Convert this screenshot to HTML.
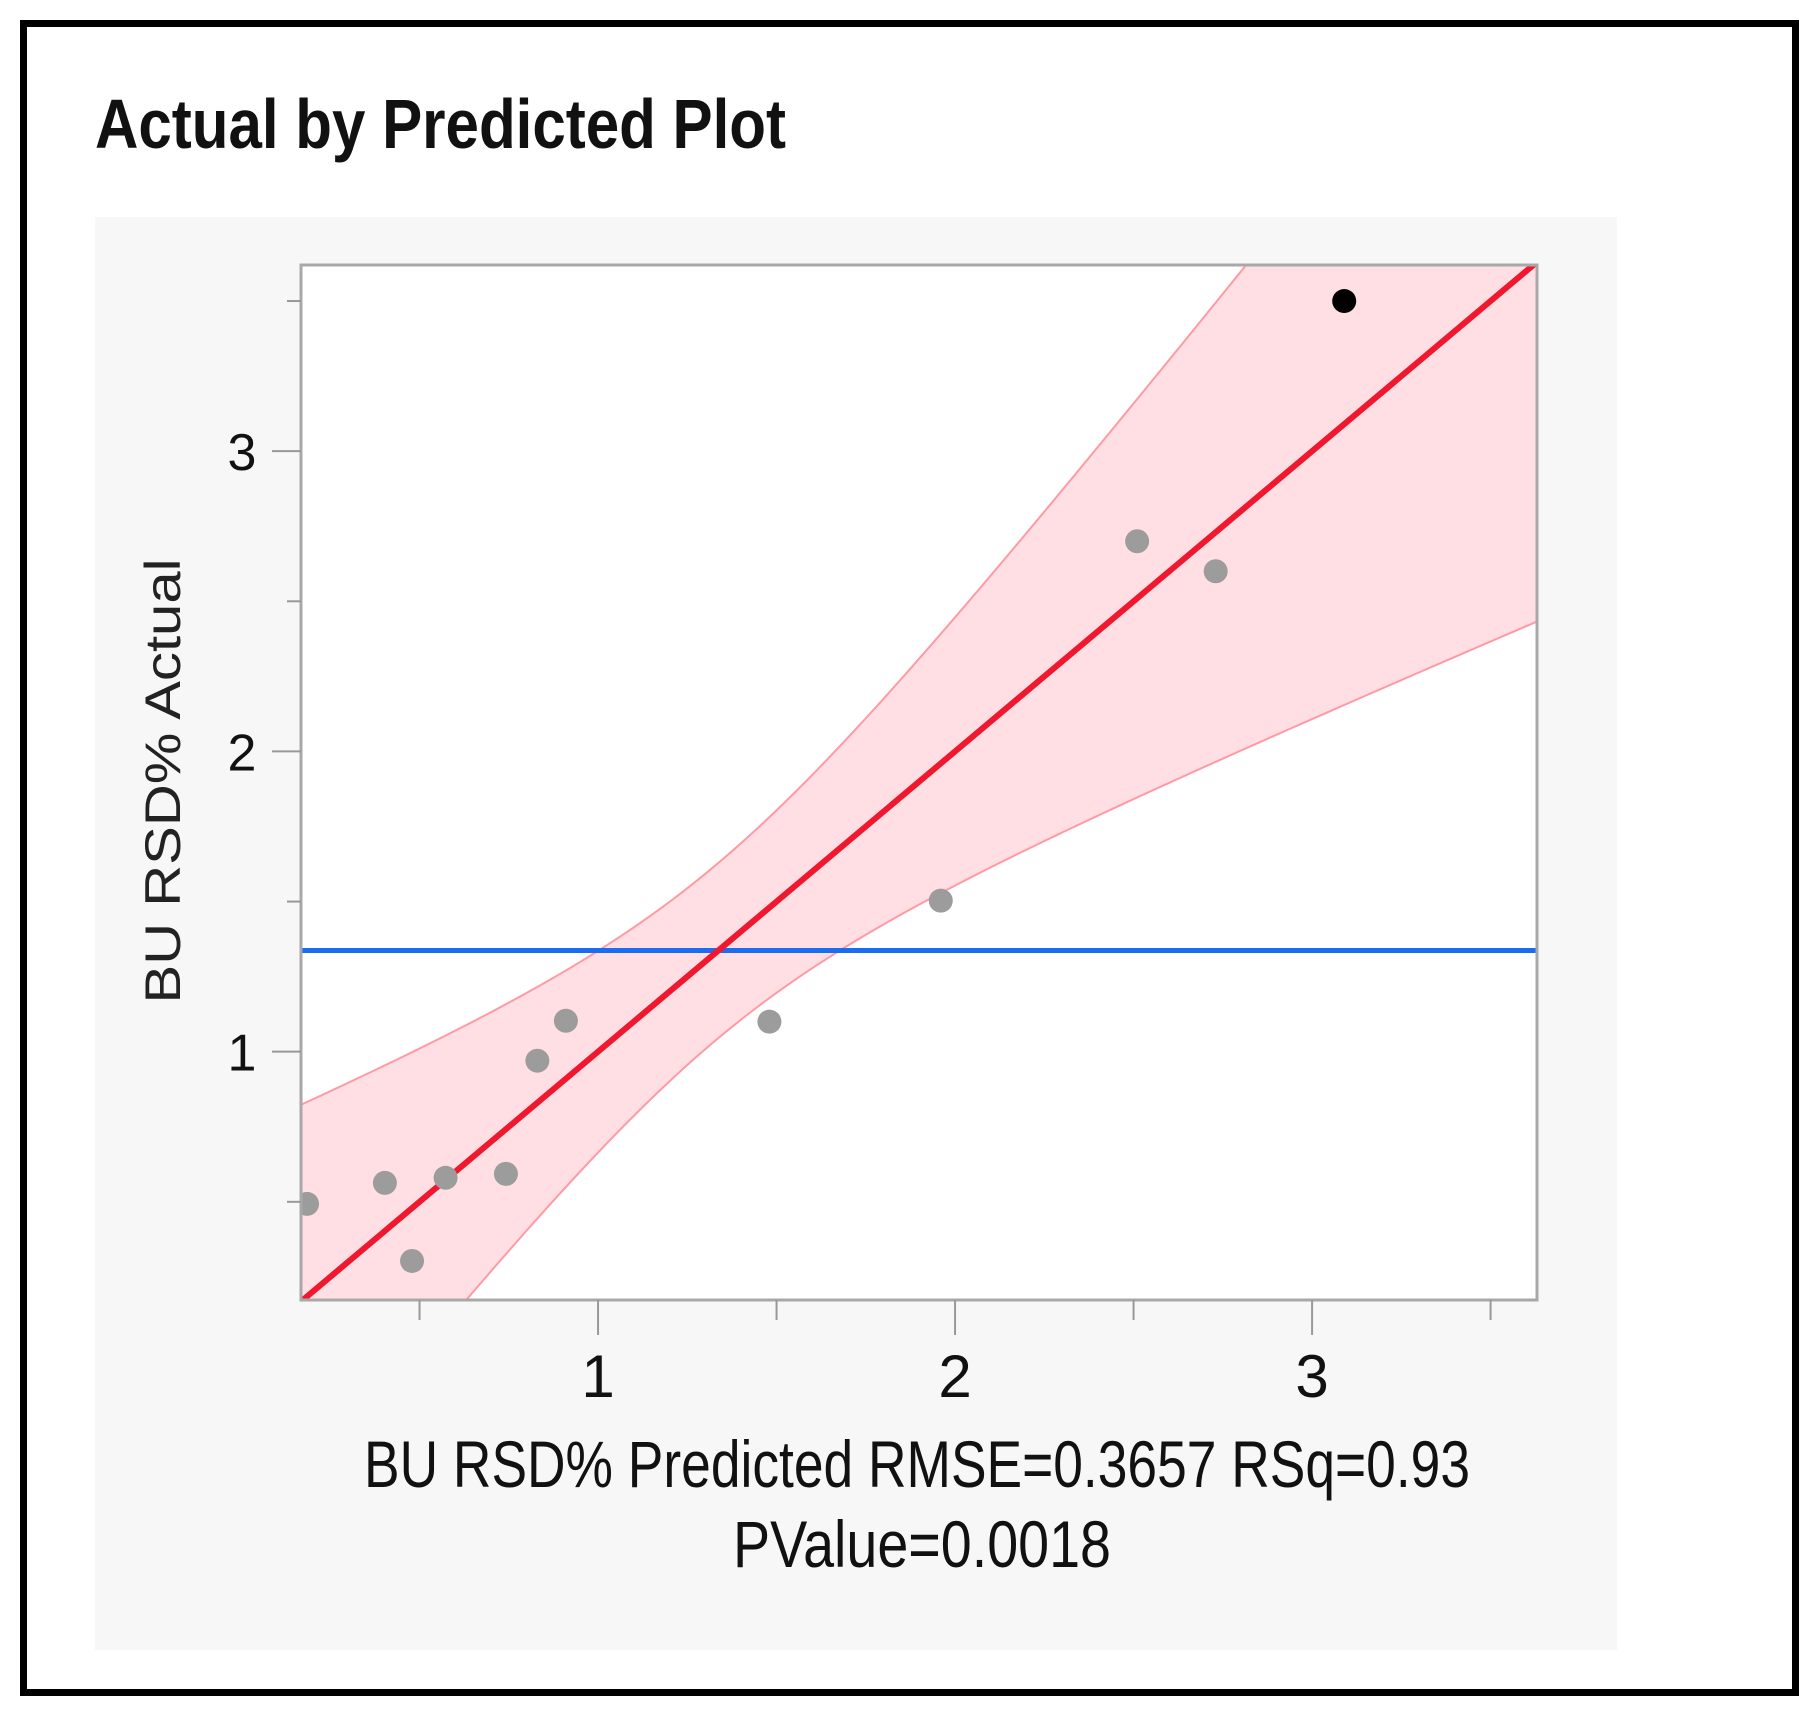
<!DOCTYPE html>
<html><head><meta charset="utf-8"><style>
html,body{margin:0;padding:0;background:#fff;}
svg{display:block;font-family:"Liberation Sans",sans-serif;}
</style></head><body>
<svg id="chart" width="1818" height="1715" viewBox="0 0 1818 1715">
<rect x="23.5" y="23.5" width="1772" height="1669" fill="#fff" stroke="#000" stroke-width="7"/>
<text x="95" y="148" font-size="70" font-weight="bold" textLength="691" lengthAdjust="spacingAndGlyphs" fill="#111">Actual by Predicted Plot</text>
<rect x="95" y="217" width="1522" height="1433" fill="#f7f7f7"/>
<rect x="301" y="265" width="1236" height="1035" fill="#fff"/>
<g id="marks"></g>
<rect x="301" y="265" width="1236" height="1035" fill="none" stroke="#a8a8a8" stroke-width="3"/>
<g id="axes"></g>
<text x="163" y="781" font-size="50" text-anchor="middle" textLength="445" lengthAdjust="spacingAndGlyphs" transform="rotate(-90 163 781)" dy="17" fill="#222">BU RSD% Actual</text>
<text x="917" y="1487" font-size="66" text-anchor="middle" textLength="1106" lengthAdjust="spacingAndGlyphs" fill="#111">BU RSD% Predicted RMSE=0.3657 RSq=0.93</text>
<text x="922" y="1567" font-size="66" text-anchor="middle" textLength="378" lengthAdjust="spacingAndGlyphs" fill="#111">PValue=0.0018</text>
</svg>
<script>
const predicted = [0.185, 0.403, 0.479, 0.573, 0.742, 0.83, 0.91, 1.48, 1.96, 2.51, 2.73, 3.09];
const actual    = [0.493, 0.563, 0.303, 0.58, 0.593, 0.97, 1.103, 1.10, 1.503, 2.70, 2.60, 3.50];
const highlighted = [false,false,false,false,false,false,false,false,false,false,false,true];
const meanActual = [1.337];
const fitLine = [0, 1]; // intercept, slope
const bandParams = [1.33, 0.085, 0.255]; // center, a, b : half-width = sqrt(a + b*(x-c)^2)
const xTicks = [1, 2, 3];
const yTicks = [1, 2, 3];
const minorTicks = [0.5, 1.5, 2.5, 3.5];

const X0=301, X1=1537, Y0=265, Y1=1300;
const xMin=0.168, xMax=3.63, yMin=0.173, yMax=3.62;
const sx = v => X0 + (v - xMin) / (xMax - xMin) * (X1 - X0);
const sy = v => Y1 - (v - yMin) / (yMax - yMin) * (Y1 - Y0);
const NS = "http://www.w3.org/2000/svg";
const marks = document.getElementById('marks');
const axes = document.getElementById('axes');
function mk(tag, attrs, parent){ const e=document.createElementNS(NS,tag); for(const k in attrs) e.setAttribute(k,attrs[k]); parent.appendChild(e); return e; }

const defs = mk('defs',{},marks);
const cp = mk('clipPath',{id:'clip'},defs);
mk('rect',{x:X0,y:Y0,width:X1-X0,height:Y1-Y0},cp);
const g = mk('g',{'clip-path':'url(#clip)'},marks);

const fit = x => fitLine[0] + fitLine[1]*x;
const hw = x => Math.sqrt(bandParams[1] + bandParams[2]*(x-bandParams[0])**2);
let up=[], lo=[];
for(let i=0;i<=120;i++){ const x = xMin + (xMax-xMin)*i/120; up.push([sx(x),sy(fit(x)+hw(x))]); lo.push([sx(x),sy(fit(x)-hw(x))]); }
const band = mk('path',{d:'M'+up.map(p=>p.join(',')).join('L')+'L'+lo.slice().reverse().map(p=>p.join(',')).join('L')+'Z',fill:'#ffdfe3'},g);


const upL = mk('path',{d:'M'+up.map(p=>p.join(',')).join('L'),fill:'none',stroke:'#ff9aa5','stroke-width':2},g);


const loL = mk('path',{d:'M'+lo.map(p=>p.join(',')).join('L'),fill:'none',stroke:'#ff9aa5','stroke-width':2},g);



const ml = mk('line',{x1:X0,x2:X1,y1:sy(meanActual[0]),y2:sy(meanActual[0]),stroke:'#1a6cf0','stroke-width':5},g);



const fl = mk('line',{x1:sx(xMin),y1:sy(fit(xMin)),x2:sx(xMax),y2:sy(fit(xMax)),stroke:'#f0182e','stroke-width':6},g);



predicted.forEach((p,i)=>{
  const c = mk('ellipse',{cx:sx(p),cy:sy(actual[i]),rx:12,ry:12,fill:highlighted[i]?'#000':'#9c9c9c'},g);
  
  
});

xTicks.forEach(t=>{
  const l = mk('line',{x1:sx(t),x2:sx(t),y1:Y1,y2:Y1+35,stroke:'#999','stroke-width':2},axes);
  
  
  const tx = mk('text',{x:sx(t),y:Y1+97,'font-size':60,'text-anchor':'middle',fill:'#111'},axes);
  tx.textContent = t;
  
  
});
minorTicks.forEach(t=>{
  const l = mk('line',{x1:sx(t),x2:sx(t),y1:Y1,y2:Y1+20,stroke:'#999','stroke-width':2},axes);
  
  
  if(t>yMin && t<yMax){
    const m = mk('line',{x1:X0-14,x2:X0,y1:sy(t),y2:sy(t),stroke:'#999','stroke-width':2},axes);
    
    
  }
});
yTicks.forEach(t=>{
  const l = mk('line',{x1:X0-29,x2:X0,y1:sy(t),y2:sy(t),stroke:'#999','stroke-width':2},axes);
  
  
  const tx = mk('text',{x:242,y:sy(t)+19,'font-size':52,'text-anchor':'middle',fill:'#111'},axes);
  tx.textContent = t;
  
  
});
</script>
</body></html>
